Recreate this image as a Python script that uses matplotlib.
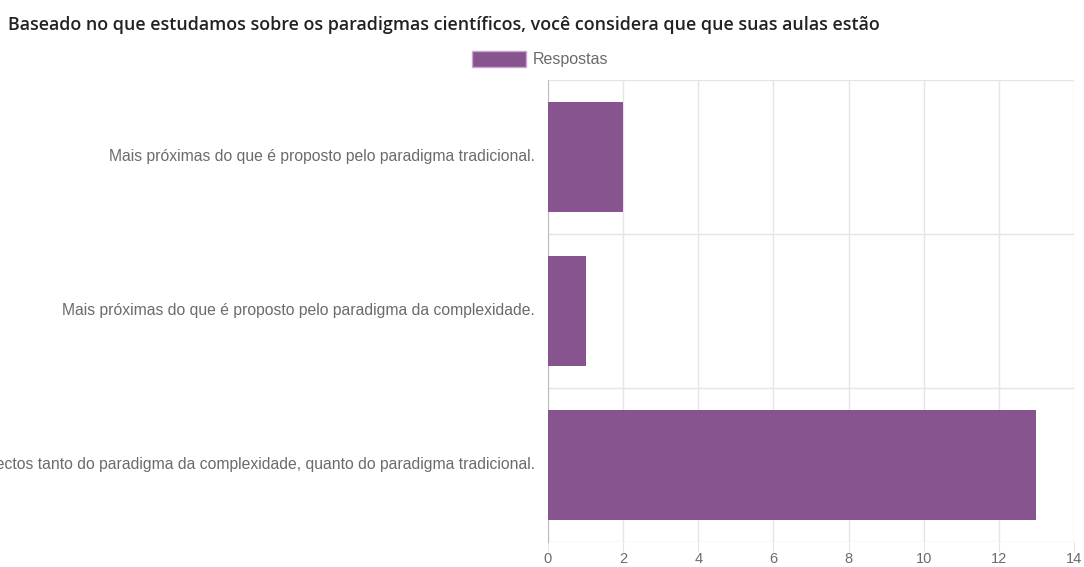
import matplotlib.pyplot as plt
from matplotlib.patches import Patch

# Data
categorias = [
    "Mais próximas do que é proposto pelo paradigma tradicional.",
    "Mais próximas do que é proposto pelo paradigma da complexidade.",
    "Com aspectos tanto do paradigma da complexidade, quanto do paradigma tradicional.",
]
respostas = [2, 1, 13]
x_ticks = [0, 2, 4, 6, 8, 10, 12, 14]

bar_color = '#87548f'
grid_color = '#e5e5e5'
text_color = '#6b6b6b'

fig = plt.figure(figsize=(10.84, 5.67), dpi=100)
ax = fig.add_axes([548 / 1084, 1 - 542 / 567, 526 / 1084, 462 / 567])

y = range(len(categorias))
ax.barh(y, respostas, height=0.72, color=bar_color, zorder=3)
ax.set_ylim(len(categorias) - 0.5, -0.5)
ax.set_xlim(0, 14)

# grid like chart.js
ax.set_xticks(x_ticks)
ax.set_yticks([i + 0.5 for i in range(-1, len(categorias))], minor=False)
ax.set_yticklabels([])
ax.grid(True, color=grid_color, linewidth=1, zorder=0)
ax.tick_params(axis='y', length=0)
ax.tick_params(axis='x', length=7, color=grid_color, labelsize=10.5,
               labelcolor=text_color, pad=0)
for lbl in ax.get_xticklabels():
    lbl.set_fontfamily('Liberation Sans')

for s in ['top', 'right', 'bottom']:
    ax.spines[s].set_visible(False)
ax.spines['left'].set_color('#bdbdbd')

# category labels
for i, cat in enumerate(categorias):
    ax.text(-0.35, i, cat, ha='right', va='center', fontsize=11.3,
            color=text_color, family='Liberation Sans', transform=ax.transData,
            clip_on=False)

# title
fig.text(8 / 1084, 1 - 25 / 567, "Baseado no que estudamos sobre os paradigmas científicos, "
         "você considera que que suas aulas estão", fontsize=12.9,
         family='Open Sans', weight='semibold', color='#222222',
         ha='left', va='center')

# legend
fig.legend(handles=[Patch(facecolor=bar_color, edgecolor='#c9a6cf', label='Respostas')],
           loc='center', bbox_to_anchor=(540 / 1084, 1 - 59 / 567), frameon=False,
           handlelength=3.4, handleheight=1.2, handletextpad=0.4,
           prop={'family': 'Liberation Sans', 'size': 11.5}, labelcolor=text_color)

fig.savefig('out.png', dpi=100)
